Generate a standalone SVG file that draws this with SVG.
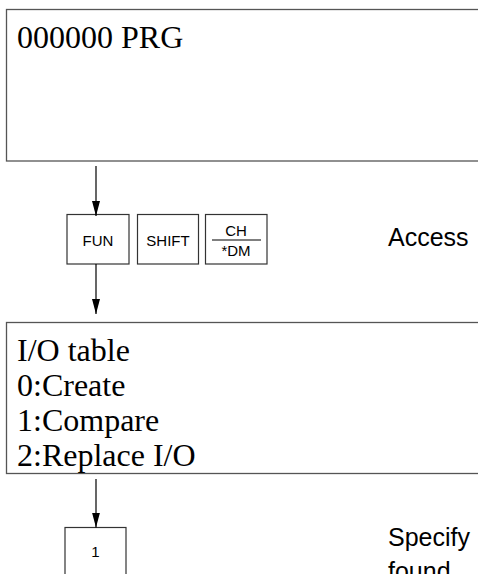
<svg xmlns="http://www.w3.org/2000/svg" width="478" height="574" viewBox="0 0 478 574">
<style>
.panel{fill:#fff;stroke:#555;stroke-width:1.3}
.key{fill:#fff;stroke:#333;stroke-width:1.2}
.lcd{font-family:"Liberation Serif",serif;font-size:32px;fill:#000}
.kt{font-family:"Liberation Sans",Arial,sans-serif;font-size:15px;fill:#000;text-anchor:middle}
.note{font-family:"Liberation Sans",Arial,sans-serif;font-size:25px;fill:#000}
.conn{stroke:#000;stroke-width:1.2;fill:none}
</style>
<defs>
<marker id="ah" viewBox="0 0 8 15" refX="8" refY="4" markerWidth="15" markerHeight="8" markerUnits="userSpaceOnUse" orient="auto">
<path d="M0,0 L15,4 L0,8 Z" fill="#000"/>
</marker>
<marker id="arr" viewBox="0 0 15 8" refX="15" refY="4" markerWidth="15" markerHeight="8" markerUnits="userSpaceOnUse" orient="auto">
<path d="M0,0 L15,4 L0,8 Z" fill="#000"/>
</marker>
</defs>
<g id="screen1">
<rect class="panel" x="6.5" y="9.5" width="490" height="151.5"/>
<text class="lcd" x="17" y="47.5">000000 PRG</text>
</g>
<g id="key-fun">
<rect class="key" x="67" y="214.5" width="62" height="49.5"/>
<text class="kt" x="98" y="246">FUN</text>
</g>
<g id="key-shift">
<rect class="key" x="137.5" y="214.5" width="61" height="49.5"/>
<text class="kt" x="168" y="246">SHIFT</text>
</g>
<g id="key-ch">
<rect class="key" x="205.5" y="214.5" width="61.5" height="49.5"/>
<text class="kt" x="236" y="235.5">CH</text>
<line x1="212" y1="240" x2="261" y2="240" stroke="#555" stroke-width="1.3"/>
<text class="kt" x="236" y="256" font-size="14">*DM</text>
</g>
<g id="note-access">
<text class="note" x="388" y="246">Access</text>
</g>
<g id="screen2">
<rect class="panel" x="6.5" y="322.5" width="490" height="151"/>
<text class="lcd" x="17" y="361">I/O table</text>
<text class="lcd" x="17" y="396">0:Create</text>
<text class="lcd" x="17" y="431">1:Compare</text>
<text class="lcd" x="17" y="466">2:Replace I/O</text>
</g>
<g id="key-1">
<rect class="key" x="65" y="527.5" width="61" height="60"/>
<text class="kt" x="95.5" y="557">1</text>
</g>
<g id="note-specify">
<text class="note" x="388" y="546">Specify</text>
<text class="note" x="388" y="580">found.</text>
</g>
<g id="connectors">
<line class="conn" x1="96" y1="166" x2="96" y2="216" marker-end="url(#arr)"/>
<line class="conn" x1="96" y1="264" x2="96" y2="314" marker-end="url(#arr)"/>
<line class="conn" x1="96" y1="479" x2="96" y2="527.5" marker-end="url(#arr)"/>
</g>
</svg>
